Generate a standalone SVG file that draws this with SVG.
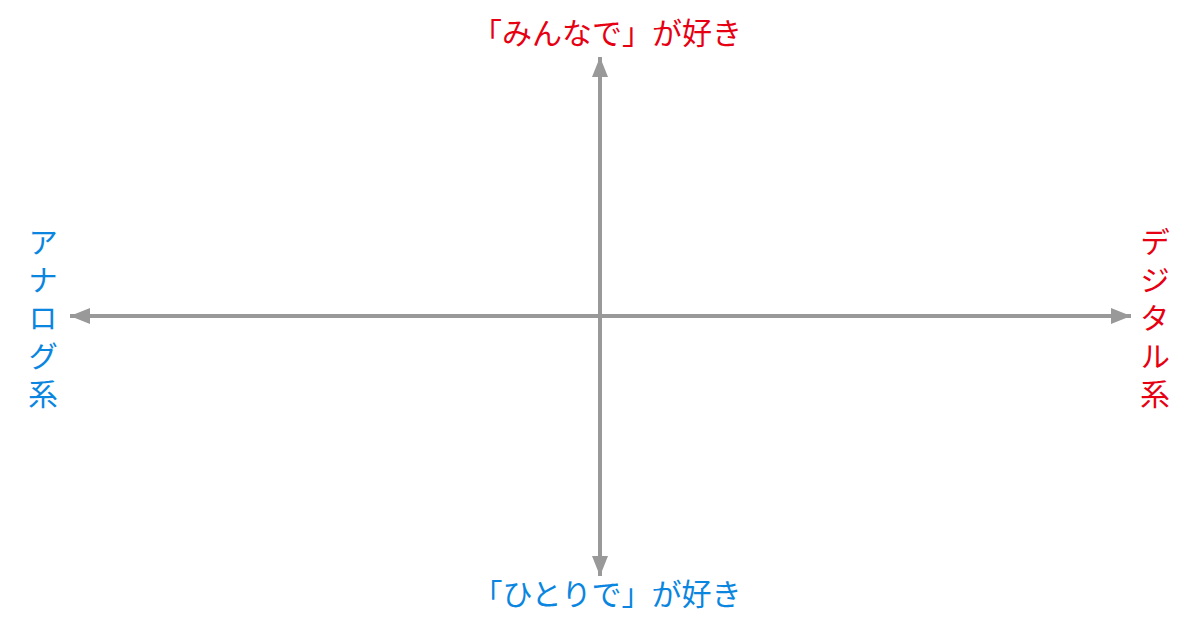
<svg xmlns="http://www.w3.org/2000/svg" width="1200" height="630" viewBox="0 0 1200 630">
<style>
.axis{stroke:#999999;stroke-width:4;fill:none}
.lbl{font-family:"Noto Sans CJK JP","Noto Sans",sans-serif;font-size:30px;text-anchor:middle}
.vert{font-family:"Noto Sans CJK JP","Noto Sans",sans-serif;font-size:30px;writing-mode:vertical-rl;letter-spacing:8px}
.red{fill:#e60012}
.blue{fill:#0a86e0}
</style>
<defs>
<marker id="arr" markerUnits="userSpaceOnUse" markerWidth="22" markerHeight="16" refX="20" refY="8" orient="auto">
<polygon points="0,0 20,8 0,16" fill="#999999"/>
</marker>
</defs>
<rect width="1200" height="630" fill="#ffffff"/>
<g id="connectors">
<line class="axis" x1="600" y1="316" x2="600" y2="57" marker-end="url(#arr)"/>
<line class="axis" x1="600" y1="316" x2="600" y2="576" marker-end="url(#arr)"/>
<line class="axis" x1="600" y1="316" x2="70" y2="316" marker-end="url(#arr)"/>
<line class="axis" x1="600" y1="316" x2="1131" y2="316" marker-end="url(#arr)"/>
</g>
<g id="top"><text class="lbl red" x="607" y="44">「みんなで」が好き</text></g>
<g id="bottom"><text class="lbl blue" x="607" y="605">「ひとりで」が好き</text></g>
<g id="left"><text class="vert blue" x="43" y="227">アナログ系</text></g>
<g id="right"><text class="vert red" x="1155" y="227">デジタル系</text></g>
</svg>
